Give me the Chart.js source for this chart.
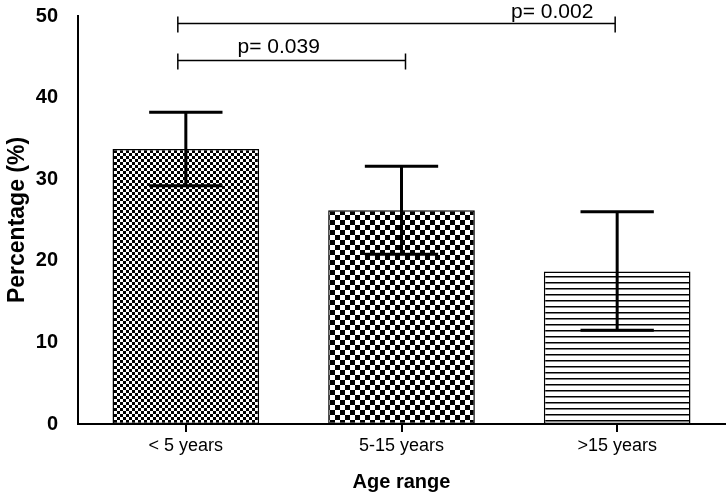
<!DOCTYPE html>
<html>
<head>
<meta charset="utf-8">
<script src="https://cdn.jsdelivr.net/npm/chart.js@4.4.0/dist/chart.umd.min.js"></script>
<style>
  html, body { margin: 0; padding: 0; background: #fff; }
  #wrap { width: 728px; height: 498px; }
</style>
</head>
<body>
<div id="wrap"><canvas id="chart" width="728" height="498"></canvas></div>
<script>
// data
const ageGroups = ["< 5 years", "5-15 years", ">15 years"];
const percentages = [33.7, 26.2, 18.7];
const errUpper = [38.2, 31.6, 26.0];
const errLower = [29.2, 20.8, 11.5];

// significance brackets: from category, to category, y value, label
const bracketFrom = [0, 0];
const bracketTo = [2, 1];
const bracketY = [49.1, 44.6];
const bracketText = ["p= 0.002", "p= 0.039"];

const FONT = "'Liberation Sans', Arial, sans-serif";

// fill patterns for the three bars
function makePattern(kind) {
  const c = document.createElement("canvas");
  const ctx = c.getContext("2d");
  if (kind === "fine") {
    c.width = 6; c.height = 6;
    ctx.fillStyle = "#fff"; ctx.fillRect(0, 0, 6, 6);
    ctx.fillStyle = "#000";
    ctx.fillRect(0, 0, 3, 3);
    ctx.fillRect(3, 3, 3, 3);
  } else if (kind === "checker") {
    c.width = 10; c.height = 10;
    ctx.fillStyle = "#fff"; ctx.fillRect(0, 0, 10, 10);
    ctx.fillStyle = "#000";
    ctx.fillRect(0, 0, 5, 5);
    ctx.fillRect(5, 5, 5, 5);
  } else {
    c.width = 8; c.height = 6;
    ctx.fillStyle = "#fff"; ctx.fillRect(0, 0, 8, 6);
    ctx.fillStyle = "#000";
    ctx.fillRect(0, 0, 8, 1.5);
  }
  return ctx.createPattern(c, "repeat");
}

const errorBars = {
  id: "errorBars",
  afterDatasetsDraw(chart) {
    const { ctx, scales: { y } } = chart;
    const meta = chart.getDatasetMeta(0);
    ctx.save();
    ctx.strokeStyle = "#000";
    ctx.lineWidth = 3;
    meta.data.forEach((bar, i) => {
      const cx = bar.x;
      const half = bar.width / 4;
      const yt = y.getPixelForValue(errUpper[i]);
      const yb = y.getPixelForValue(errLower[i]);
      ctx.beginPath();
      ctx.moveTo(cx, yt); ctx.lineTo(cx, yb);
      ctx.moveTo(cx - half, yt); ctx.lineTo(cx + half, yt);
      ctx.moveTo(cx - half, yb); ctx.lineTo(cx + half, yb);
      ctx.stroke();
    });
    ctx.restore();
  }
};

const brackets = {
  id: "brackets",
  afterDraw(chart) {
    const { ctx, scales: { x, y } } = chart;
    ctx.save();
    ctx.strokeStyle = "#000";
    ctx.lineWidth = 1.5;
    ctx.fillStyle = "#000";
    ctx.font = "21px " + FONT;
    ctx.textBaseline = "alphabetic";
    ctx.textAlign = "center";
    bracketY.forEach((v, i) => {
      const x1 = x.getPixelForValue(bracketFrom[i]) - 8;
      const x2 = x.getPixelForValue(bracketTo[i]) + (i === 0 ? -2 : 4);
      const py = Math.round(y.getPixelForValue(v)) + 0.5;
      ctx.beginPath();
      ctx.moveTo(x1, py); ctx.lineTo(x2, py);
      ctx.moveTo(x1, py - 7); ctx.lineTo(x1, py + 9);
      ctx.moveTo(x2, py - 7); ctx.lineTo(x2, py + 9);
      ctx.stroke();
      // label sits above the line, nearer one end
      const tx = i === 0 ? x2 - 63 : (x1 + x2) / 2 - 13;
      ctx.fillText(bracketText[i], tx, py - (i === 0 ? 6 : 8));
    });
    ctx.restore();
  }
};

new Chart(document.getElementById("chart"), {
  type: "bar",
  data: {
    labels: ageGroups,
    datasets: [{
      data: percentages,
      backgroundColor: [makePattern("fine"), makePattern("checker"), makePattern("lines")],
      borderColor: "#000",
      borderWidth: 1.5,
      borderSkipped: false,
      barPercentage: 0.68,
      categoryPercentage: 1
    }]
  },
  options: {
    responsive: false,
    animation: false,
    layout: { padding: { top: 16, right: 3, left: 0, bottom: 0 } },
    plugins: { legend: { display: false }, tooltip: { enabled: false } },
    scales: {
      x: {
        grid: { display: true, drawOnChartArea: false, drawTicks: true, tickLength: 8, color: "#000", lineWidth: 2, offset: false },
        border: { display: true, color: "#000", width: 2 },
        ticks: { color: "#000", font: { family: FONT, size: 18 }, padding: 3 },
        title: { display: true, text: "Age range", color: "#000", font: { family: FONT, size: 20, weight: "bold" }, padding: { top: 7 } },
        afterFit(scale) { scale.height = 74; scale.paddingLeft = 0; scale.paddingRight = 0; }
      },
      y: {
        min: 0, max: 50,
        ticks: { stepSize: 10, color: "#000", font: { family: FONT, size: 20, weight: "bold" }, padding: 12 },
        grid: { display: false },
        border: { display: true, color: "#000", width: 2 },
        title: { display: true, text: "Percentage (%)", color: "#000", font: { family: FONT, size: 23, weight: "bold" }, padding: { bottom: 2 } },
        afterFit(scale) { scale.width = 78; scale.paddingTop = 0; scale.paddingBottom = 0; }
      }
    }
  },
  plugins: [errorBars, brackets]
});
</script>
</body>
</html>
